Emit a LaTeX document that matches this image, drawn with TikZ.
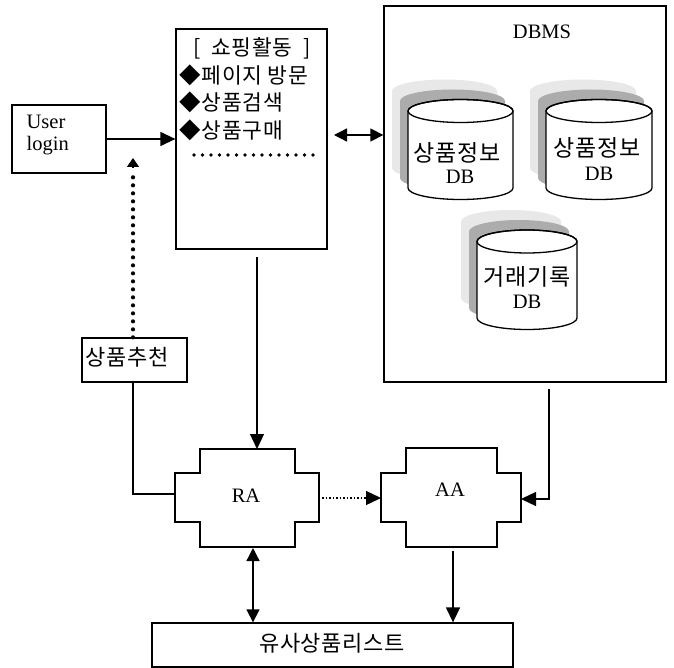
\documentclass[tikz,border=0pt]{standalone}
\usepackage{fontspec}
\setmainfont{Liberation Serif}
\newfontfamily\krfont[LetterSpace=3]{Noto Sans CJK KR}
\usetikzlibrary{arrows.meta}
\newcommand\lat{\fontsize{20.5pt}{22pt}\selectfont}
\newcommand\ko{\krfont\fontsize{22pt}{24pt}\selectfont}
\newcommand\kob{\krfont\fontsize{23pt}{25pt}\selectfont}
\newcommand\kos{\krfont\fontsize{21.5pt}{24pt}\selectfont}
% cylinder: cx, ytop, ybot, rx
\newcommand\dbcyl[4]{%
  \fill[gray!18] (#1-#4-16,#2-20) arc[start angle=180,end angle=0,x radius=#4pt,y radius=11.5pt]
     -- (#1+#4-16,#3-20) arc[start angle=0,end angle=-180,x radius=#4pt,y radius=11.5pt] -- cycle;
  \fill[gray!65] (#1-#4-8,#2-10) arc[start angle=180,end angle=0,x radius=#4pt,y radius=11.5pt]
     -- (#1+#4-8,#3-10) arc[start angle=0,end angle=-180,x radius=#4pt,y radius=11.5pt] -- cycle;
  \draw[fill=white] (#1-#4,#2) arc[start angle=180,end angle=0,x radius=#4pt,y radius=11.5pt]
     -- (#1+#4,#3) arc[start angle=0,end angle=-180,x radius=#4pt,y radius=11.5pt] -- cycle;
  \draw (#1,#2) ellipse[x radius=#4pt,y radius=11.5pt];
}
\begin{document}
\begin{tikzpicture}[x=1pt,y=-1pt, line width=1.3pt, line join=miter,
  box/.style={draw, rectangle, inner sep=0pt},
  arr/.style={-{Triangle[length=15pt,width=14pt]}},
  arrs/.style={-{Triangle[length=9pt,width=12pt]}},
  dbl/.style={{Triangle[length=13pt,width=13pt]}-{Triangle[length=13pt,width=13pt]}},
  bigdots/.style={line width=4.2pt, line cap=round, dash pattern=on 0pt off 8pt},
  finedots/.style={line width=1.2pt, dash pattern=on 1.5pt off 2pt},
  txt/.style={inner sep=0pt, font=\lat},
  ktxt/.style={inner sep=0pt, font=\ko}]
\useasboundingbox (0,0) rectangle (674,668);

% boxes
\node[box, minimum width=94pt, minimum height=68pt] (login) at (59,139) {};
\node[txt, anchor=west, align=left] (logintxt) at (26,135) {User\\login};

\node[box, minimum width=151pt, minimum height=220pt] (shop) at (251.5,139) {};
\node[ktxt, font=\kos] (shoptitle) at (252,48) {[\ \ 쇼핑활동\ \ ]};
\node[ktxt, font=\kos, anchor=west] (s1) at (179,75) {◆페이지 방문};
\node[ktxt, font=\kos, anchor=west] (s2) at (179,102) {◆상품검색};
\node[ktxt, font=\kos, anchor=west] (s3) at (179,130) {◆상품구매};
\coordinate (dl) at (194,155);
\coordinate (dr) at (313,155);
\draw[line width=3.8pt, line cap=round, dash pattern=on 0pt off 8.5pt] (dl) -- (dr);

\node[box, minimum width=282pt, minimum height=376pt] (dbms) at (525,194) {};
\node[txt] (dbmstxt) at (542,32) {DBMS};

\dbcyl{460.5}{111}{188}{52.5}
\node[ktxt, font=\kob] (c1a) at (457,153) {상품정보};
\node[txt] (c1b) at (460,177) {DB};
\dbcyl{599}{111}{188}{53}
\node[ktxt, font=\kob] (c2a) at (597,148) {상품정보};
\node[txt] (c2b) at (599,174) {DB};
\dbcyl{527}{241.5}{318}{50}
\node[ktxt, font=\kob] (c3a) at (527,277) {거래기록};
\node[txt] (c3b) at (527,302) {DB};

\node[box, minimum width=105pt, minimum height=44pt] (rec) at (134.5,360) {};
\node[ktxt, anchor=west] (rectxt) at (85,357) {상품추천};

\node[box, minimum width=361pt, minimum height=44pt] (list) at (332.5,645) {};
\node[ktxt] (listtxt) at (332,643) {유사상품리스트};

% agents
\draw (200,449) -- (295,449) -- (295,473) -- (319,473) -- (319,522) -- (295,522)
  -- (295,547) -- (200,547) -- (200,522) -- (175,522) -- (175,473) -- (200,473) -- cycle;
\node[txt] (RA) at (246,496) {RA};
\draw (406,448) -- (497,448) -- (497,473) -- (521,473) -- (521,522) -- (497,522)
  -- (497,547) -- (406,547) -- (406,522) -- (381,522) -- (381,473) -- (406,473) -- cycle;
\node[txt] (AA) at (450,490) {AA};

% connectors
\draw[arr] (login.east) -- (shop.west);
\draw[dbl] (334,135) -- (dbms.west |- 0,135);

\coordinate (dotTop) at (133,174);
\coordinate (dotTip) at (133,158);
\draw[bigdots] (rec.north -| 133,0) -- (dotTop);
\draw[arrs] (133,168) -- (dotTip);

\coordinate (raTop) at (257,449);
\draw[arr] (257,257) -- (raTop);

\coordinate (raLeft) at (175,494);
\draw (rec.south -| 133,0) -- (133,494) -- (raLeft);

\coordinate (aaLeft) at (381,498);
\draw[finedots] (322,498) -- (368,498);
\draw[arr] (367,498) -- (aaLeft);

\coordinate (aaRight) at (521,499);
\draw[arr] (549,389) -- (549,499) -- (aaRight);

\draw[dbl] (253,548) -- (list.north -| 253,0);
\draw[arr] (453,551) -- (list.north -| 453,0);
\end{tikzpicture}
\end{document}
